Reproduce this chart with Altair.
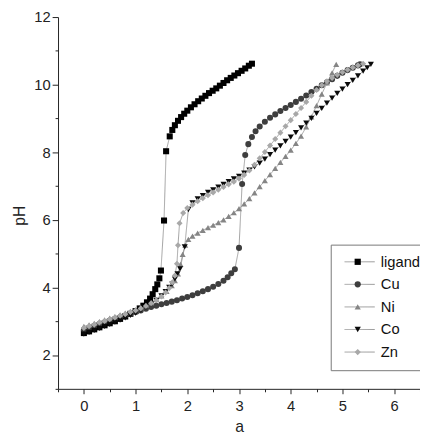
import altair as alt
import pandas as pd

names = ["ligand", "Cu", "Ni", "Co", "Zn"]
shapes = ["square", "circle", "triangle-up", "triangle-down", "diamond"]
colors = ["#000000", "#3e3e3e", "#858585", "#0a0a0a", "#a8a8a8"]

lig_a = [0.00, 0.10, 0.20, 0.30, 0.40, 0.50, 0.60, 0.70, 0.80, 0.90, 1.00, 1.08, 1.15, 1.22, 1.28,
         1.33, 1.38, 1.42, 1.46, 1.49, 1.55, 1.59, 1.66, 1.71, 1.76, 1.82, 1.88, 1.94, 2.00, 2.07,
         2.14, 2.21, 2.28, 2.35, 2.42, 2.49, 2.56, 2.63, 2.70, 2.77, 2.84, 2.91, 2.98, 3.05, 3.12,
         3.19, 3.25]
lig_ph = [2.65, 2.70, 2.76, 2.82, 2.88, 2.94, 3.00, 3.07, 3.14, 3.22, 3.30, 3.38, 3.46, 3.56, 3.67,
          3.80, 3.95, 4.09, 4.27, 4.50, 5.98, 8.03, 8.47, 8.66, 8.80, 8.93, 9.04, 9.14, 9.23, 9.33,
          9.42, 9.51, 9.59, 9.67, 9.75, 9.82, 9.89, 9.97, 10.05, 10.13, 10.20, 10.27, 10.34, 10.41, 10.48,
          10.56, 10.62]

cu_a = [0.00, 0.10, 0.20, 0.30, 0.40, 0.50, 0.60, 0.70, 0.80, 0.90, 1.00, 1.10, 1.20, 1.30, 1.40,
        1.50, 1.60, 1.70, 1.80, 1.90, 2.00, 2.10, 2.20, 2.30, 2.40, 2.50, 2.60, 2.70, 2.78, 2.85,
        2.92, 3.00, 3.06, 3.12, 3.18, 3.25, 3.32, 3.40, 3.50, 3.60, 3.70, 3.80, 3.90, 4.00, 4.10,
        4.20, 4.30, 4.40, 4.50, 4.60, 4.70, 4.80, 4.90, 5.00, 5.10, 5.20, 5.30, 5.34]
cu_ph = [2.75, 2.80, 2.86, 2.92, 2.97, 3.02, 3.07, 3.12, 3.17, 3.22, 3.27, 3.32, 3.37, 3.42, 3.46,
         3.50, 3.54, 3.58, 3.62, 3.67, 3.72, 3.77, 3.83, 3.89, 3.95, 4.02, 4.10, 4.20, 4.30, 4.42,
         4.54, 5.17, 7.06, 7.92, 8.24, 8.45, 8.62, 8.76, 8.90, 9.02, 9.12, 9.22, 9.31, 9.40, 9.49,
         9.58, 9.68, 9.78, 9.88, 9.98, 10.07, 10.16, 10.26, 10.35, 10.43, 10.50, 10.57, 10.60]

ni_a = [0.00, 0.10, 0.20, 0.30, 0.40, 0.50, 0.60, 0.70, 0.80, 0.90, 1.00, 1.10, 1.20, 1.30, 1.40,
        1.50, 1.60, 1.70, 1.76, 1.82, 1.87, 1.91, 1.96, 2.02, 2.10, 2.20, 2.30, 2.40, 2.50, 2.60,
        2.70, 2.80, 2.90, 3.00, 3.10, 3.20, 3.30, 3.40, 3.50, 3.60, 3.70, 3.80, 3.90, 4.00, 4.10,
        4.20, 4.30, 4.40, 4.50, 4.60, 4.70, 4.80, 4.88]
ni_ph = [2.85, 2.89, 2.94, 2.99, 3.04, 3.09, 3.14, 3.19, 3.24, 3.29, 3.34, 3.40, 3.47, 3.55, 3.64,
         3.75, 3.88, 4.05, 4.20, 4.40, 4.68, 4.98, 5.25, 5.42, 5.52, 5.61, 5.69, 5.77, 5.84, 5.92,
         6.00, 6.10, 6.21, 6.33, 6.47, 6.63, 6.80, 6.98, 7.16, 7.34, 7.52, 7.70, 7.88, 8.06, 8.26,
         8.48, 8.75, 9.05, 9.38, 9.72, 10.05, 10.35, 10.60]

co_a = [0.00, 0.10, 0.20, 0.30, 0.40, 0.50, 0.60, 0.70, 0.80, 0.90, 1.00, 1.10, 1.20, 1.30, 1.40,
        1.50, 1.58, 1.65, 1.71, 1.76, 1.81, 1.86, 1.95, 2.02, 2.10, 2.20, 2.30, 2.40, 2.50, 2.60,
        2.70, 2.80, 2.90, 3.00, 3.10, 3.20, 3.30, 3.40, 3.50, 3.60, 3.70, 3.80, 3.90, 4.00, 4.10,
        4.20, 4.30, 4.40, 4.50, 4.60, 4.70, 4.80, 4.90, 5.00, 5.10, 5.20, 5.30, 5.40, 5.48, 5.55]
co_ph = [2.62, 2.67, 2.73, 2.79, 2.85, 2.91, 2.97, 3.03, 3.10, 3.17, 3.24, 3.32, 3.41, 3.51, 3.62,
         3.75, 3.88, 4.00, 4.10, 4.25, 4.40, 4.55, 5.20, 6.30, 6.50, 6.62, 6.72, 6.81, 6.89, 6.97,
         7.05, 7.13, 7.21, 7.29, 7.38, 7.47, 7.57, 7.68, 7.80, 7.93, 8.06, 8.19, 8.32, 8.45, 8.58,
         8.72, 8.86, 9.00, 9.15, 9.30, 9.45, 9.60, 9.74, 9.87, 10.00, 10.13, 10.26, 10.40, 10.50, 10.60]

zn_a = [0.00, 0.10, 0.20, 0.30, 0.40, 0.50, 0.60, 0.70, 0.80, 0.90, 1.00, 1.10, 1.20, 1.30, 1.40,
        1.50, 1.58, 1.65, 1.71, 1.76, 1.80, 1.82, 1.85, 1.92, 2.00, 2.10, 2.20, 2.30, 2.40, 2.50,
        2.60, 2.70, 2.80, 2.90, 3.00, 3.10, 3.20, 3.30, 3.40, 3.50, 3.60, 3.70, 3.80, 3.90, 4.00,
        4.10, 4.20, 4.30, 4.40, 4.50, 4.60, 4.70, 4.80, 4.90, 5.00, 5.10, 5.20, 5.30, 5.40]
zn_ph = [2.80, 2.85, 2.90, 2.96, 3.01, 3.06, 3.11, 3.16, 3.21, 3.27, 3.32, 3.38, 3.45, 3.53, 3.62,
         3.73, 3.85, 3.98, 4.15, 4.35, 4.70, 5.25, 5.90, 6.20, 6.35, 6.45, 6.55, 6.64, 6.73, 6.81,
         6.89, 6.97, 7.05, 7.13, 7.22, 7.33, 7.46, 7.63, 7.82, 8.01, 8.20, 8.39, 8.58, 8.77, 8.95,
         9.13, 9.31, 9.49, 9.67, 9.84, 9.98, 10.10, 10.20, 10.29, 10.37, 10.44, 10.51, 10.57, 10.62]

x_ticks = [-0.5, 0, 0.5, 1, 1.5, 2, 2.5, 3, 3.5, 4, 4.5, 5, 5.5, 6, 6.5]
y_ticks = [1, 2, 3, 4, 5, 6, 7, 8, 9, 10, 11, 12]

# second key (for the connecting-line legend) so that its legend is not merged
line_keys = [n + " line" for n in names]

rows = []
for k, (nm, xs, ys) in enumerate([("ligand", lig_a, lig_ph), ("Cu", cu_a, cu_ph), ("Ni", ni_a, ni_ph),
                                  ("Co", co_a, co_ph), ("Zn", zn_a, zn_ph)]):
    for i, (xv, yv) in enumerate(zip(xs, ys)):
        rows.append({"a": xv, "pH": yv, "series": nm, "series2": line_keys[k], "idx": i})
df = pd.DataFrame(rows)

FONT = "Liberation Sans"

x_enc = alt.X("a:Q", scale=alt.Scale(domain=[-0.5, 6.5], nice=False, zero=False),
              axis=alt.Axis(values=x_ticks, title="a", grid=False, labelOverlap=False,
                            labelExpr="datum.value % 1 == 0 ? format(datum.value, 'd') : ''",
                            tickSize={"condition": {"test": "datum.value % 1 != 0", "value": 3}, "value": 5},
                            labelPadding=5, titlePadding=5))
y_enc = alt.Y("pH:Q", scale=alt.Scale(domain=[1, 12], nice=False, zero=False),
              axis=alt.Axis(values=y_ticks, title="pH", grid=False, labelOverlap=False,
                            labelExpr="datum.value % 2 == 0 ? format(datum.value, 'd') : ''",
                            tickSize={"condition": {"test": "datum.value % 2 != 0", "value": 3}, "value": 6},
                            labelPadding=2, titleX=-39, titleY=202, titleBaseline="middle"))

line_legend = alt.Legend(orient="none", legendX=278, legendY=232, padding=10, title=None,
                         symbolType="M-4.4,0H4.4", symbolSize=49, symbolStrokeColor="#9a9a9a",
                         symbolFillColor="transparent", symbolOffset=12,
                         symbolStrokeWidth=1, labelOffset=56, rowPadding=7,
                         labelFont=FONT, labelFontSize=15, strokeColor="#777777",
                         fillColor="white", zindex=0, labelExpr="''")

lines = alt.Chart(df).mark_line(strokeWidth=0.8, color="#8a8a8a").encode(
    x=x_enc, y=y_enc,
    strokeDash=alt.StrokeDash("series2:N",
                              scale=alt.Scale(domain=line_keys, range=[[1, 0]] * 5),
                              legend=line_legend),
    order=alt.Order("idx:Q"),
)

pt_legend = alt.Legend(orient="none", legendX=288, legendY=232, padding=10, title=None,
                       symbolSize=40, labelOffset=16, rowPadding=7, labelFont=FONT,
                       labelFontSize=15, labelColor="#111111", zindex=1)

points = alt.Chart(df).mark_point(filled=True, size=38, opacity=1).encode(
    x=x_enc, y=y_enc,
    shape=alt.Shape("series:N", scale=alt.Scale(domain=names, range=shapes), legend=pt_legend),
    color=alt.Color("series:N", scale=alt.Scale(domain=names, range=colors), legend=pt_legend),
)

chart = alt.layer(lines, points).properties(
    width=369, height=379,
    autosize=alt.AutoSizeParams(type="none"),
    padding={"left": 51, "top": 5, "right": 0, "bottom": 52},
).configure_view(stroke=None).configure_axis(
    domainColor="#222222", tickColor="#222222", labelColor="#222222", titleColor="#222222",
    labelFont=FONT, titleFont=FONT, labelFontSize=15, titleFontSize=16, titleFontWeight="normal",
    domainWidth=1, tickWidth=1,
)

chart.save("out.html", embed_options={"renderer": "svg", "actions": False})
